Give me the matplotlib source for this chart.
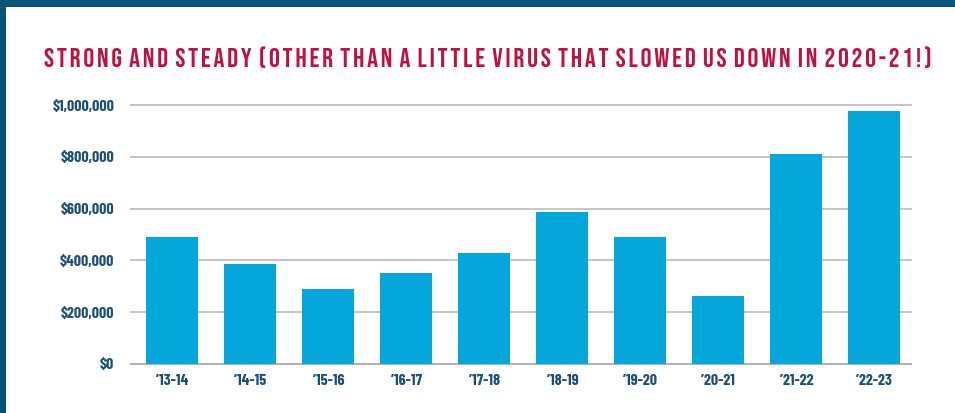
import matplotlib
matplotlib.use('Agg')
import matplotlib.pyplot as plt
from matplotlib.patches import Rectangle
from matplotlib.ticker import FuncFormatter

# school years and the amount raised in each
seasons = ['\u201913-14', '\u201914-15', '\u201915-16', '\u201916-17', '\u201917-18',
           '\u201918-19', '\u201919-20', '\u201920-21', '\u201921-22', '\u201922-23']
amounts = [490000, 386000, 290000, 351000, 429000,
           587000, 490000, 263000, 811000, 977000]
y_ticks = [0, 200000, 400000, 600000, 800000, 1000000]
title = 'STRONG AND STEADY (OTHER THAN A LITTLE VIRUS THAT SLOWED US DOWN IN 2020-21!)'

navy = '#0b5278'
label_col = '#1d4f74'
bar_col = '#06a7db'
title_col = '#c0103f'
tick_font = ['Barlow Condensed', 'Roboto Condensed', 'DejaVu Sans']
title_font = ['Bebas Neue', 'DejaVu Sans']

fig = plt.figure(figsize=(9.55, 4.13), dpi=100, facecolor=navy)
# white panel with a navy frame on the left and top
fig.patches.append(Rectangle((6 / 955, 0), 1, (413 - 7) / 413,
                             transform=fig.transFigure, facecolor='white',
                             edgecolor='none', zorder=-5))

ax = fig.add_axes([131 / 955, 49 / 413, 780 / 955, 259 / 413])
ax.set_facecolor('none')

ax.bar(range(len(seasons)), amounts, width=0.667, color=bar_col, zorder=3)

ax.set_xlim(-0.53, 9.47)
ax.set_ylim(0, 1000000)
ax.set_yticks(y_ticks)
ax.yaxis.set_major_formatter(FuncFormatter(lambda v, p: '${:,.0f}'.format(v)))
ax.set_xticks(range(len(seasons)))
ax.set_xticklabels(seasons)

for v in y_ticks:
    ax.axhline(v, color='#c4c4c4' if v else '#b0b0b0', lw=1.4, zorder=1,
               clip_on=False)

for s in ax.spines.values():
    s.set_visible(False)
ax.tick_params(axis='both', length=0, colors=label_col)
ax.tick_params(axis='y', pad=12)
ax.tick_params(axis='x', pad=7)
for lab in ax.get_yticklabels() + ax.get_xticklabels():
    lab.set_fontfamily(tick_font)
    lab.set_fontweight('bold')
    lab.set_fontsize(11.5)

# spread the letters a little, like the tracked heading
spaced = ' \u200a'.join('\u200a'.join(w) for w in title.split(' '))
fig.text(0.5 * (45 + 930) / 955, (413 - 57) / 413, spaced,
         ha='center', va='center', color=title_col, fontsize=19.5,
         family=title_font)

fig.savefig('out.png', dpi=100, facecolor=navy)
